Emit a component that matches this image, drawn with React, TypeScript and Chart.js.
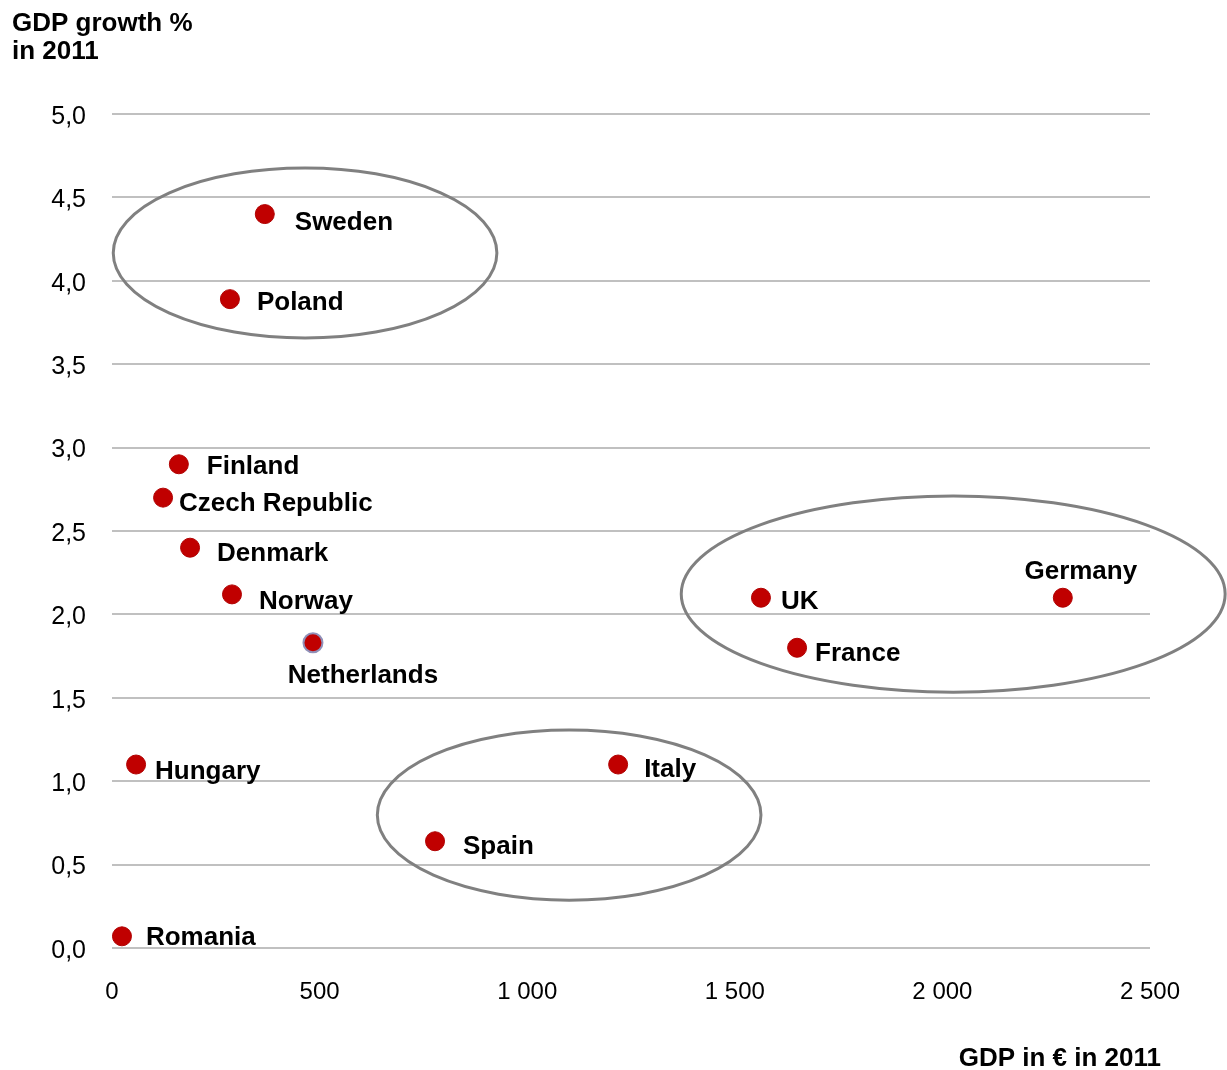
import React, { useEffect, useRef } from "react";
import { Chart, registerables } from "chart.js";

Chart.register(...registerables);

const countries = [
  "Sweden", "Poland", "Finland", "Czech Republic", "Denmark", "Norway", "Netherlands",
  "Hungary", "Romania", "Spain", "Italy", "UK", "France", "Germany",
];
const gdpEur = [368, 284, 161, 123, 188, 289, 484, 58, 24, 778, 1219, 1563, 1650, 2290];
const gdpGrowth = [4.4, 3.89, 2.9, 2.7, 2.4, 2.12, 1.83, 1.1, 0.07, 0.64, 1.1, 2.1, 1.8, 2.1];

const xTicks = [0, 500, 1000, 1500, 2000, 2500];
const yTicks = [0, 0.5, 1, 1.5, 2, 2.5, 3, 3.5, 4, 4.5, 5];

// groups highlighted with ellipses: centre x, centre y, radius x, radius y (data units)
const ellipseCx = [465, 2026, 1101];
const ellipseCy = [4.167, 2.122, 0.797];
const ellipseRx = [462, 655, 462];
const ellipseRy = [0.51, 0.588, 0.51];

// label placement relative to its point (pixels) and alignment
const labelDx = [30, 27, 28, 16, 27, 27, 50, 19, 24, 28, 26, 20, 18, 18];
const labelDy = [9, 4, 3, 6, 6, 7, 33, 7, 2, 6, 5, 4, 6, -26];
const labelAlign = ["left", "left", "left", "left", "left", "left", "center", "left", "left", "left", "left", "left", "left", "center"];

const FONT = "'Liberation Sans', Arial, Helvetica, sans-serif";

export default function App() {
  const ref = useRef<HTMLCanvasElement | null>(null);

  useEffect(() => {
    if (!ref.current) return;
    const overlay = {
      id: "overlay",
      beforeDatasetsDraw(chart: any) {
        const { ctx, scales } = chart;
        const xs = scales.x, ys = scales.y;
        ctx.save();
        ctx.strokeStyle = "#808080";
        ctx.lineWidth = 3;
        for (let i = 0; i < ellipseCx.length; i++) {
          const cx = xs.getPixelForValue(ellipseCx[i]);
          const cy = ys.getPixelForValue(ellipseCy[i]);
          const rx = Math.abs(xs.getPixelForValue(ellipseCx[i] + ellipseRx[i]) - cx);
          const ry = Math.abs(ys.getPixelForValue(ellipseCy[i] + ellipseRy[i]) - cy);
          ctx.beginPath();
          ctx.ellipse(cx, cy, rx, ry, 0, 0, Math.PI * 2);
          ctx.stroke();
        }
        ctx.restore();
      },
      afterDatasetsDraw(chart: any) {
        const { ctx } = chart;
        const meta = chart.getDatasetMeta(0);
        ctx.save();
        ctx.fillStyle = "#000";
        ctx.font = `bold 26px ${FONT}`;
        ctx.textBaseline = "middle";
        meta.data.forEach((pt: any, i: number) => {
          ctx.textAlign = labelAlign[i];
          ctx.fillText(countries[i], pt.x + labelDx[i], pt.y + labelDy[i]);
        });
        // axis titles
        ctx.font = `bold 26px ${FONT}`;
        ctx.textBaseline = "alphabetic";
        ctx.textAlign = "left";
        ctx.fillText("GDP growth %", 12, 31);
        ctx.fillText("in 2011", 12, 59);
        ctx.textAlign = "right";
        ctx.fillText("GDP in € in 2011", 1161, 1066);
        ctx.restore();
      },
    };

    const chart = new Chart(ref.current, {
      type: "scatter",
      data: {
        datasets: [
          {
            label: "GDP",
            data: gdpEur.map((x, i) => ({ x, y: gdpGrowth[i] })),
            backgroundColor: "#C00000",
            borderColor: countries.map((c) => (c === "Netherlands" ? "#9090b8" : "#B00000")),
            borderWidth: countries.map((c) => (c === "Netherlands" ? 2 : 1)),
            pointRadius: 9.5,
            pointHoverRadius: 9.5,
          },
        ],
      },
      options: {
        responsive: false,
        animation: false,
        layout: { padding: { top: 114, right: 77, left: 0, bottom: 0 } },
        plugins: { legend: { display: false }, tooltip: { enabled: false } },
        scales: {
          x: {
            type: "linear",
            min: 0,
            max: 2500,
            afterBuildTicks: (s: any) => { s.ticks = xTicks.map((v) => ({ value: v })); },
            afterFit: (s: any) => { s.height = 122; },
            grid: { display: false, drawTicks: false },
            border: { display: false },
            ticks: {
              padding: 30,
              color: "#000",
              font: { family: FONT, size: 24 },
              callback: (v: any) => String(v).replace(/\B(?=(\d{3})+(?!\d))/g, " "),
            },
          },
          y: {
            type: "linear",
            min: 0,
            max: 5,
            afterBuildTicks: (s: any) => { s.ticks = yTicks.map((v) => ({ value: v })); },
            afterFit: (s: any) => { s.width = 112; },
            grid: { color: "#c0c0c0", lineWidth: 2, drawTicks: false },
            border: { display: false },
            ticks: {
              padding: 26,
              labelOffset: 3,
              color: "#000",
              font: { family: FONT, size: 25 },
              callback: (v: any) => Number(v).toFixed(1).replace(".", ","),
            },
          },
        },
      },
      plugins: [overlay],
    });
    return () => chart.destroy();
  }, []);

  return (
    <div style={{ position: "absolute", left: 0, top: 0, width: 1227, height: 1070, background: "#fff" }}>
      <canvas ref={ref} width={1227} height={1070} />
    </div>
  );
}
